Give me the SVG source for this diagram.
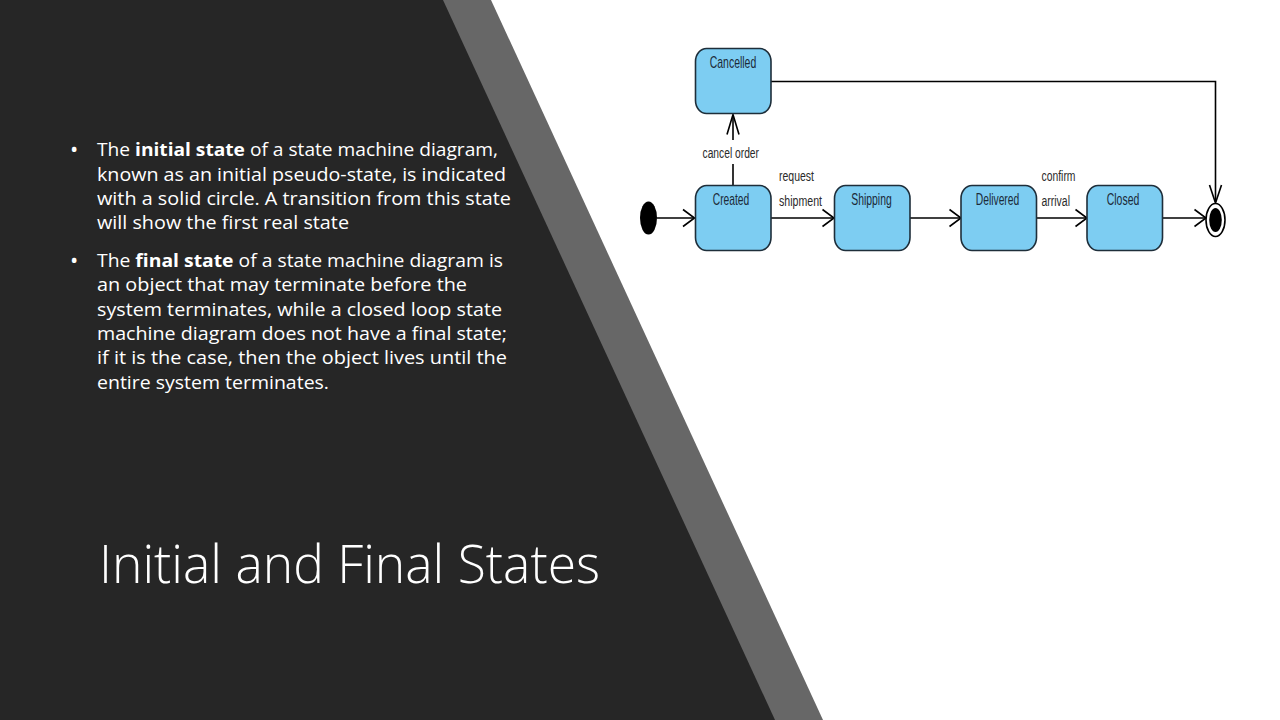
<svg xmlns="http://www.w3.org/2000/svg" width="1280" height="720" viewBox="0 0 1280 720">
<style>
.body{font-family:"Open Sans","Liberation Sans",sans-serif;font-size:18px;fill:#ffffff}
.bul{font-family:"Open Sans","Liberation Sans",sans-serif;font-size:22px;fill:#ffffff}
.title{font-family:"Open Sans","Liberation Sans",sans-serif;font-weight:300;font-size:54px;fill:#ffffff}
.state rect{fill:#7dcdf2;stroke:#1e2e3a;stroke-width:1.6}
.state text{font-family:"Liberation Sans",Arial,sans-serif;font-size:17px;fill:#1b2a38;text-anchor:middle}
.lbl{font-family:"Liberation Sans",Arial,sans-serif;font-size:14px;fill:#2a2a2a}
.line{fill:none;stroke:#000;stroke-width:1.6}
.head{fill:none;stroke:#000;stroke-width:1.6;stroke-linejoin:miter}
</style>
<rect width="1280" height="720" fill="#ffffff"/>
<polygon points="0,0 491,0 823,720 0,720" fill="#676767"/>
<polygon points="0,0 443,0 775,720 0,720" fill="#262626"/>

<g id="text-bullets">
<text class="bul" x="70" y="157">•</text>
<text class="body" x="97" y="156" textLength="401" lengthAdjust="spacingAndGlyphs">The <tspan font-weight="bold">initial state</tspan> of a state machine diagram,</text>
<text class="body" x="97" y="180.5" textLength="409" lengthAdjust="spacingAndGlyphs">known as an initial pseudo-state, is indicated</text>
<text class="body" x="97" y="204.5" textLength="414" lengthAdjust="spacingAndGlyphs">with a solid circle. A transition from this state</text>
<text class="body" x="97" y="228.5" textLength="252" lengthAdjust="spacingAndGlyphs">will show the first real state</text>
<text class="bul" x="70" y="268">•</text>
<text class="body" x="97" y="267" textLength="406" lengthAdjust="spacingAndGlyphs">The <tspan font-weight="bold">final state</tspan> of a state machine diagram is</text>
<text class="body" x="97" y="291" textLength="370" lengthAdjust="spacingAndGlyphs">an object that may terminate before the</text>
<text class="body" x="97" y="315.5" textLength="405" lengthAdjust="spacingAndGlyphs">system terminates, while a closed loop state</text>
<text class="body" x="97" y="340" textLength="410" lengthAdjust="spacingAndGlyphs">machine diagram does not have a final state;</text>
<text class="body" x="97" y="364" textLength="410" lengthAdjust="spacingAndGlyphs">if it is the case, then the object lives until the</text>
<text class="body" x="97" y="388.5" textLength="232" lengthAdjust="spacingAndGlyphs">entire system terminates.</text>
</g>

<g id="title">
<text class="title" x="99" y="583" textLength="501" lengthAdjust="spacingAndGlyphs">Initial and Final States</text>
</g>

<g id="connectors">
<line class="line" x1="657" y1="218" x2="694" y2="218"/>
<polyline class="head" points="683,209.5 694.5,218 683,226.5"/>
<line class="line" x1="771" y1="218" x2="833" y2="218"/>
<polyline class="head" points="822.5,209.5 834,218 822.5,226.5"/>
<line class="line" x1="910" y1="218" x2="960" y2="218"/>
<polyline class="head" points="949.5,209.5 961,218 949.5,226.5"/>
<line class="line" x1="1036" y1="218" x2="1086" y2="218"/>
<polyline class="head" points="1075.5,209.5 1087,218 1075.5,226.5"/>
<line class="line" x1="1162" y1="218" x2="1205" y2="218"/>
<polyline class="head" points="1194.5,209.5 1206,218 1194.5,226.5"/>
<line class="line" x1="733" y1="185" x2="733" y2="164"/>
<line class="line" x1="733" y1="140" x2="733" y2="115"/>
<polyline class="head" points="727,134.5 733,114.5 739,134.5"/>
<polyline class="line" points="771,81.5 1215.5,81.5 1215.5,202"/>
<polyline class="head" points="1209.5,185 1215.5,203 1221.5,185"/>
<text class="lbl" x="702.5" y="158" textLength="56.5" lengthAdjust="spacingAndGlyphs">cancel order</text>
<text class="lbl" x="779" y="181" textLength="35" lengthAdjust="spacingAndGlyphs">request</text>
<text class="lbl" x="779" y="205.5" textLength="43" lengthAdjust="spacingAndGlyphs">shipment</text>
<text class="lbl" x="1041.5" y="181" textLength="34" lengthAdjust="spacingAndGlyphs">confirm</text>
<text class="lbl" x="1041.5" y="205.5" textLength="28.5" lengthAdjust="spacingAndGlyphs">arrival</text>
</g>

<g id="initial">
<ellipse cx="648.5" cy="218" rx="8.5" ry="16.5" fill="#000"/>
</g>

<g id="cancelled" class="state">
<rect x="695.5" y="48.5" width="75.5" height="65" rx="11" ry="13"/>
<text x="733" y="68" textLength="46.5" lengthAdjust="spacingAndGlyphs">Cancelled</text>
</g>
<g id="created" class="state">
<rect x="695.5" y="185.5" width="75.5" height="65" rx="11" ry="13"/>
<text x="731" y="205" textLength="36.5" lengthAdjust="spacingAndGlyphs">Created</text>
</g>
<g id="shipping" class="state">
<rect x="834.5" y="185.5" width="75.5" height="65" rx="11" ry="13"/>
<text x="871.5" y="205" textLength="40.5" lengthAdjust="spacingAndGlyphs">Shipping</text>
</g>
<g id="delivered" class="state">
<rect x="961" y="185.5" width="75.5" height="65" rx="11" ry="13"/>
<text x="997.5" y="205" textLength="43.5" lengthAdjust="spacingAndGlyphs">Delivered</text>
</g>
<g id="closed" class="state">
<rect x="1087" y="185.5" width="75.5" height="65" rx="11" ry="13"/>
<text x="1123" y="205" textLength="32.5" lengthAdjust="spacingAndGlyphs">Closed</text>
</g>

<g id="final">
<ellipse cx="1215.5" cy="220" rx="9.5" ry="16.5" fill="#fff" stroke="#000" stroke-width="1.6"/>
<ellipse cx="1215.5" cy="220" rx="6.3" ry="12" fill="#000"/>
</g>
</svg>
